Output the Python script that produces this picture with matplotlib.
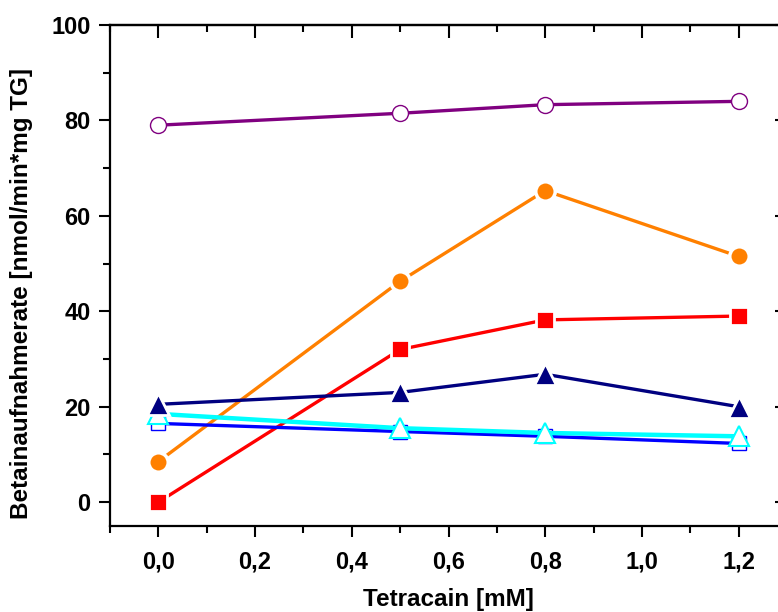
import matplotlib.pyplot as plt
from matplotlib.ticker import MultipleLocator, FuncFormatter

plt.rcParams['font.family'] = ['Liberation Sans', 'DejaVu Sans']

# data
tetracain = [0.0, 0.5, 0.8, 1.2]
purple_open = [79.0, 81.5, 83.3, 84.0]
orange_circ = [8.5, 46.3, 65.3, 51.5]
red_square = [0.0, 32.0, 38.2, 39.0]
navy_tri = [20.5, 23.0, 26.8, 20.0]
cyan_open_tri = [18.5, 15.5, 14.5, 13.8]
blue_open_sq = [16.5, 14.8, 13.8, 12.3]

fig = plt.figure(figsize=(7.78, 6.12), dpi=100)
# right spine sits just outside the picture, as in the reference
ax = fig.add_axes([110/778, 1-526/612, 677/778, 501/612])

lw = 2.4
ax.plot(tetracain, purple_open, color='#800080', lw=lw, marker='o', ms=11.5,
        mfc='white', mec='#800080', mew=1.0, zorder=3)
ax.plot(tetracain, orange_circ, color='#FF8000', lw=lw, marker='o', ms=14,
        mfc='#FF8000', mec='white', mew=2.5, zorder=3)
ax.plot(tetracain, red_square, color='#FF0000', lw=lw, marker='s', ms=12.5,
        mfc='#FF0000', mec='white', mew=2.0, zorder=3)
ax.plot(tetracain, blue_open_sq, color='#0000FF', lw=lw, marker='s', ms=10,
        mfc='white', mec='#0000FF', mew=1.0, zorder=3)
ax.plot(tetracain, cyan_open_tri, color='#00FFFF', lw=lw + 0.8, marker='^', ms=14,
        mfc='white', mec='#00FFFF', mew=1.5, zorder=4)
ax.plot(tetracain, navy_tri, color='#000080', lw=lw, marker='^', ms=16,
        mfc='#000080', mec='white', mew=2.0, zorder=4)

ax.set_xlim(-0.1, 1.3)
ax.set_ylim(-5, 100)

ax.xaxis.set_major_locator(MultipleLocator(0.2))
ax.xaxis.set_minor_locator(MultipleLocator(0.1))
ax.yaxis.set_major_locator(MultipleLocator(20))
ax.yaxis.set_minor_locator(MultipleLocator(10))
ax.xaxis.set_major_formatter(FuncFormatter(lambda v, p: f"{v:.1f}".replace('.', ',')))
ax.yaxis.set_major_formatter(FuncFormatter(lambda v, p: f"{v:.0f}"))

for s in ax.spines.values():
    s.set_linewidth(1.6)

ax.tick_params(which='both', direction='out', top=False, right=False,
               width=1.5, labelsize=17)
ax.tick_params(which='major', length=8)
ax.tick_params(which='minor', length=5)
ax.tick_params(axis='x', which='major', pad=10)
ax.tick_params(axis='y', which='major', pad=6)
for lab in ax.get_xticklabels() + ax.get_yticklabels():
    lab.set_fontweight('bold')

# inward ticks on top and right, without labels
axt = ax.secondary_xaxis('top')
axt.xaxis.set_major_locator(MultipleLocator(0.2))
axt.xaxis.set_minor_locator(MultipleLocator(0.1))
axt.tick_params(which='both', direction='in', width=1.5, labeltop=False)
axt.tick_params(which='major', length=9)
axt.tick_params(which='minor', length=5)
axt.spines['top'].set_linewidth(1.6)
axr = ax.secondary_yaxis('right')
axr.yaxis.set_major_locator(MultipleLocator(20))
axr.yaxis.set_minor_locator(MultipleLocator(10))
axr.tick_params(which='both', direction='in', width=1.5, labelright=False)
axr.tick_params(which='major', length=9)
axr.tick_params(which='minor', length=5)

ax.set_xlabel('Tetracain [mM]', fontsize=17.5, fontweight='bold')
ax.set_ylabel('Betainaufnahmerate [nmol/min*mg TG]', fontsize=17.5,
              fontweight='bold')
ax.xaxis.set_label_coords(0.5, -0.124)
ax.yaxis.set_label_coords(-0.114, 0.464)

fig.savefig('out.png', dpi=100)
